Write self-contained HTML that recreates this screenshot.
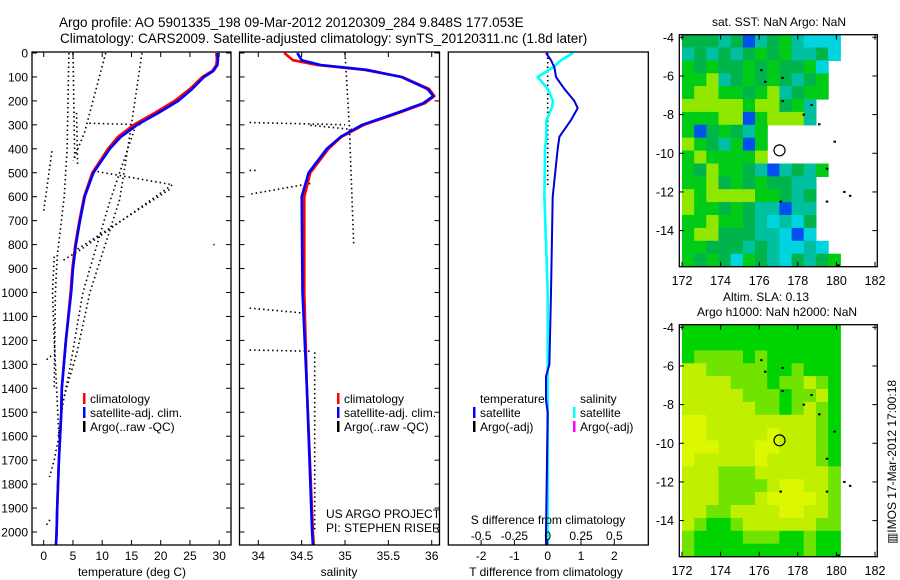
<!DOCTYPE html>
<html><head><meta charset="utf-8"><style>
html,body{margin:0;padding:0;background:#fff;}
svg{display:block;font-family:"Liberation Sans",sans-serif;}
text{fill:#000;}
</style></head><body>
<svg id="fig" width="900" height="580" viewBox="0 0 900 580" xmlns="http://www.w3.org/2000/svg">
<text x="59" y="27" font-size="13.5">Argo profile: AO 5901335_198 09-Mar-2012 20120309_284 9.848S 177.053E</text>
<text x="60" y="43" font-size="13.5">Climatology: CARS2009. Satellite-adjusted climatology: synTS_20120311.nc (1.8d later)</text>
<g id="p1"></g>
<g id="p2"></g>
<g id="p3"></g>
<g id="m1"></g>
<g id="m2"></g>
<text transform="translate(896,462) rotate(-90)" text-anchor="middle" font-size="12">▥IMOS 17-Mar-2012 17:00:18</text>
</svg>
<script>
// ---- data ----
const depthTicks=[0,100,200,300,400,500,600,700,800,900,1000,1100,1200,1300,1400,1500,1600,1700,1800,1900,2000];
const tTicks=[0,5,10,15,20,25,30];
const sTicks=[34,34.5,35,35.5,36];
const sTickLabels=["34","34.5","35","35.5","36"];
const dTTicks=[-2,-1,0,1,2];
const dSTicks=[-0.5,-0.25,0,0.25,0.5];
const dSTickLabels=["-0.5","-0.25","0","0.25","0.5"];
const profDepth=[0,25,50,75,100,150,200,250,300,350,400,500,600,700,800,900,1000,1200,1400,1500,1700,1900,2000,2055];
const tempClim=[29.5,29.6,29.5,28.8,27.1,25.0,22.4,19.0,15.4,12.7,11.0,8.3,6.9,6.1,5.4,4.9,4.6,3.8,3.1,3.0,2.6,2.3,2.2,2.1];
const tempSat=[29.7,29.8,29.7,29.0,27.4,25.4,23.0,19.6,16.0,13.2,11.3,8.5,7.0,6.2,5.5,5.0,4.7,3.8,3.1,3.0,2.6,2.3,2.2,2.1];
const salDepth=[0,30,50,70,100,150,180,210,250,300,350,400,500,600,1000,1400,2000,2055];
const salClim=[34.30,34.40,34.68,35.22,35.66,35.97,36.03,35.92,35.62,35.22,34.96,34.81,34.60,34.53,34.53,34.56,34.63,34.64];
const salSat=[34.45,34.50,34.72,35.25,35.65,35.95,36.02,35.90,35.60,35.20,34.95,34.79,34.58,34.50,34.51,34.56,34.62,34.63];
const diffDepth=[0,30,60,100,150,200,230,280,350,400,600,1000,1300,1350,1450,1500,2000,2055];
const tDiff=[-0.05,0.1,0.2,0.25,0.5,0.8,0.9,0.7,0.35,0.3,0.15,0.1,0.05,-0.05,-0.05,0.0,-0.05,-0.05];
const sDiff=[0.19,0.1,0.04,-0.075,0.0,0.04,0.03,-0.01,-0.01,-0.02,-0.025,0.0,0.0,0.0,0.0,0.0,0.0,0.0];
const argoT=[
 [[4.3,0],[4.0,400],[3.5,600],[2.3,850],[2.0,1000],[1.8,1400]],
 [[5.0,0],[5.3,440]],
 [[5.6,250],[5.8,470]],
 [[10.6,0],[7,330],[5,450]],
 [[16.8,0],[15,300],[13,610],[7.9,1000],[5.7,1250],[3.3,1450],[2.5,1600]],
 [[15.5,320],[11.3,620],[6.7,1000],[4.6,1300],[3,1500]],
 [[7.8,293],[17,300]],
 [[1.4,410],[0,660]],
 [[9.2,495],[22,550],[6.4,820],[3,870]],
 [[21.5,570],[5.7,820]],
 [[1.8,850],[1.5,1000],[1.8,1200],[2.2,1400],[2.6,1600],[1.8,1700],[1.0,1770]],
 [[0.5,1280],[1.5,1260]],
 [[0.5,1970],[1.3,1940]],
 [[29,800],[29.2,800]]
];
const argoS=[
 [[35.0,0],[35.05,300],[35.1,800]],
 [[33.9,290],[35.0,300]],
 [[34.6,302],[35.1,320]],
 [[33.9,490],[33.97,490]],
 [[34.6,545],[33.9,590]],
 [[33.9,1065],[34.5,1085]],
 [[33.9,1240],[34.6,1245]],
 [[34.65,1250],[34.65,2000]]
];
const mapLonTicks=[172,174,176,178,180,182];
const mapLatTicks=[-4,-6,-8,-10,-12,-14];
const sstRows=[
"GGGcGbcGgcCCC","cGcGcGgGgccGC","gGgGGgGgGGgC.","ggycGgGgGcGg.","gyyggGgycGgg.","yyyyygyyGgc..",
"gggyybgyyyc..","gbGgGcg......","ygGcgbg......","gyggggy......","gGyggGcbcGcg.","ggyGgGgGGcc..",
"ygyyyyggGcG..","yggGgGccbcc..","ggyggGcCcCG..","gyyGGGccCbC..","ggGGGcGcCCcC.","gGgGCgGcCGcGg"];
const slaRows=[
"ggggggggggggg","ggggggggggggg","gllllglgggggg","yylllllgglggg","yyyylllgllylg","yyyyylllgllyg",
"yyyyyyllglylg","YYyyyyyyyyylg","YYyyyyyYyyylg","YYYyyyYYyyylg","YyyyyyYyyyylg","yyylllyyyyyyl",
"yyyllllyYYyyl","yyylllyYYYYyl","yyllyyyyYYyyl","ylgglyyyyyyll","lgggglllgglgg","lggggggggglgg"];
const islandLon=[176.1,176.3,177.2,177.2,178.7,178.3,179.1,179.9,179.5,177.1,179.5,180.4,180.7,180.1];
const islandLat=[-5.7,-6.3,-6.1,-7.3,-7.5,-8.0,-8.5,-9.4,-10.8,-12.5,-12.5,-12.0,-12.2,-15.8];
const profLon=[177.053], profLat=[-9.848];

// ---- helpers ----
const NS="http://www.w3.org/2000/svg";
function mk(parent,tag,attrs,txt){const e=document.createElementNS(NS,tag);for(const k in attrs)e.setAttribute(k,attrs[k]);if(txt!==undefined)e.textContent=txt;parent.appendChild(e);return e;}
const Y=d=>53+d*0.2395;
const XT=t=>43.7+t*5.85;
const XS=s=>258.3+(s-34)*86.7;
const XDT=t=>547.7+t*33.3;
const XDS=s=>547.7+s*133.2;
const TOP=52,BOT=545;

function frame(g,x0,x1,name){
 const r=mk(g,'rect',{x:x0,y:TOP,width:x1-x0,height:BOT-TOP,fill:'none',stroke:'#000','stroke-width':1.3});
 
 
}
function depthAxis(g,x0,x1,labels){
 depthTicks.forEach(d=>{
  const y=Y(d);
  const t=mk(g,'line',{x1:x0,x2:x0+5,y1:y,y2:y,stroke:'#000'});
  
  
  const t2=mk(g,'line',{x1:x1-5,x2:x1,y1:y,y2:y,stroke:'#000'});
  
  
  if(labels){
   const l=mk(g,'text',{x:x0-4,y:y+4.5,'text-anchor':'end','font-size':12},String(d));
   
   
  }
 });
}
function xAxis(g,vals,labs,fx,ly,name){
 vals.forEach((v,i)=>{
  const x=fx(v);
  const t=mk(g,'line',{x1:x,x2:x,y1:BOT-5,y2:BOT,stroke:'#000'});
  
  
  const t2=mk(g,'line',{x1:x,x2:x,y1:TOP,y2:TOP+5,stroke:'#000'});
  
  
  const l=mk(g,'text',{x:x,y:ly,'text-anchor':'middle','font-size':12},labs[i]);
  
  
 });
}
function line(g,xs,ds,fx,color,w,name){
 const pts=xs.map((v,i)=>fx(v).toFixed(1)+','+Y(ds[i]).toFixed(1)).join(' ');
 const p=mk(g,'polyline',{points:pts,fill:'none',stroke:color,'stroke-width':w,'stroke-linejoin':'round'});
 
 
}
function dotted(g,segs,fx,name){
 segs.forEach(seg=>{
  const pts=seg.map(p=>fx(p[0]).toFixed(1)+','+Y(p[1]).toFixed(1)).join(' ');
  const p=mk(g,'polyline',{points:pts,fill:'none',stroke:'#000','stroke-width':1.6,'stroke-dasharray':'1.5,3'});
  
  
 });
}
function legend(g,x,y,items){
 items.forEach((it,i)=>{
  const yy=y+i*14;
  if(it[1]){const b=mk(g,'rect',{x:x,y:yy-10,width:2.5,height:11,fill:it[1]});
  
  }
  const t=mk(g,'text',{x:x+7,y:yy,'font-size':12},it[0]);
  
  
 });
}

// ---- panel 1: temperature ----
const p1=document.getElementById('p1');
dotted(p1,argoT,XT,'argo-temperature');
line(p1,tempClim,profDepth,XT,'#ff0000',2.6,'temperature-climatology');
line(p1,tempSat,profDepth,XT,'#0000ff',2.6,'temperature-satellite-adj');
frame(p1,32,231,'temperature-axes');
depthAxis(p1,32,231,true);
xAxis(p1,tTicks,tTicks.map(String),XT,560,'temperature');
let lb=mk(p1,'text',{x:132,y:576,'text-anchor':'middle','font-size':12},'temperature (deg C)');

legend(p1,83,403,[['climatology','#ff0000'],['satellite-adj. clim.','#0000ff'],['Argo(..raw -QC)','#000']]);

// ---- panel 2: salinity ----
const p2=document.getElementById('p2');
dotted(p2,argoS,XS,'argo-salinity');
line(p2,salClim,salDepth,XS,'#ff0000',2.6,'salinity-climatology');
line(p2,salSat,salDepth,XS,'#0000ff',2.6,'salinity-satellite-adj');
frame(p2,239.5,439.5,'salinity-axes');
depthAxis(p2,239.5,439.5,false);
xAxis(p2,sTicks,sTickLabels,XS,560,'salinity');
lb=mk(p2,'text',{x:339,y:576,'text-anchor':'middle','font-size':12},'salinity');

legend(p2,337,403,[['climatology','#ff0000'],['satellite-adj. clim.','#0000ff'],['Argo(..raw -QC)','#000']]);
lb=mk(p2,'text',{x:326,y:518,'font-size':12},'US ARGO PROJECT');

lb=mk(p2,'text',{x:326,y:532,'font-size':12},'PI: STEPHEN RISER');


// ---- panel 3: differences ----
const p3=document.getElementById('p3');
dotted(p3,[[[0,0],[0,560]]],XDT,'argo-difference');
line(p3,sDiff,diffDepth,XDS,'#00ffff',2.6,'salinity-difference');
line(p3,tDiff,diffDepth,XDT,'#0000d8',2,'temperature-difference');
frame(p3,448.3,648.3,'difference-axes');
dTTicks.forEach(v=>{const x=XDT(v);
 const t=mk(p3,'line',{x1:x,x2:x,y1:BOT-5,y2:BOT,stroke:'#000'});
 
 const l=mk(p3,'text',{x:x,y:560,'text-anchor':'middle','font-size':12},String(v));
 });
dSTicks.forEach((v,i)=>{const l=mk(p3,'text',{x:XDS(v),y:540,'text-anchor':'middle','font-size':12},dSTickLabels[i]);
 });
lb=mk(p3,'text',{x:548,y:524,'text-anchor':'middle','font-size':12},'S difference from climatology');

lb=mk(p3,'text',{x:546,y:576,'text-anchor':'middle','font-size':12},'T difference from climatology');

legend(p3,473,403,[['temperature',null],['satellite','#0000ff'],['Argo(-adj)','#000']]);
legend(p3,573,403,[['salinity',null],['satellite','#00ffff'],['Argo(-adj)','#ff00ff']]);

// ---- maps ----
const colsSST={G:'#00b44c',g:'#00cc18',y:'#90e800',c:'#00c0a0',C:'#00d4e0',b:'#0050f0'};
const colsSLA={g:'#00d400',l:'#70e400',y:'#c0f000',Y:'#dcf800'};
function drawMap(g,rows,cols,y0,name){
 const LX=l=>682+(l-172)*19.3;
 const LY=a=>37.3+(-4-a)*19.33+y0;
 const nr=rows.length,nc=rows[0].length,latTop=-3.86,latBot=-15.86,lonL=172,lonR=180.2;
 const dlat=(latTop-latBot)/nr,dlon=(lonR-lonL)/nc;
 rows.forEach((row,r)=>{[...row].forEach((ch,c)=>{
  if(ch==='.')return;
  const x=LX(lonL+c*dlon),y=LY(latTop-r*dlat);
  const cell=mk(g,'rect',{x:x.toFixed(1),y:y.toFixed(1),width:(dlon*19.3+0.6).toFixed(1),height:(dlat*19.33+0.6).toFixed(1),fill:cols[ch]});
  
  
 });});
 islandLon.forEach((lo,i)=>{const d=mk(g,'rect',{x:LX(lo)-1,y:LY(islandLat[i])-1,width:2.5,height:2,fill:'#000'});
  });
 const c=mk(g,'circle',{cx:LX(profLon[0]),cy:LY(profLat[0]),r:5.5,fill:'none',stroke:'#000','stroke-width':1.2});
 
 const fr=mk(g,'rect',{x:679.3,y:34.7+y0,width:198,height:232,fill:'none',stroke:'#000','stroke-width':1.3});
 
 mapLonTicks.forEach(lo=>{const x=LX(lo);
  const t=mk(g,'line',{x1:x,x2:x,y1:34.7+y0,y2:39.7+y0,stroke:'#000'});
  const t2=mk(g,'line',{x1:x,x2:x,y1:261.7+y0,y2:266.7+y0,stroke:'#000'});
  const l=mk(g,'text',{x:x,y:285+y0,'text-anchor':'middle','font-size':12.5},String(lo));
  });
 mapLatTicks.forEach(la=>{const y=LY(la);
  const t=mk(g,'line',{x1:679.3,x2:684,y1:y,y2:y,stroke:'#000'});
  const t2=mk(g,'line',{x1:872.3,x2:877.3,y1:y,y2:y,stroke:'#000'});
  const l=mk(g,'text',{x:674,y:y+4.5,'text-anchor':'end','font-size':12.5},String(la));
  });
}
const m1=document.getElementById('m1');
drawMap(m1,sstRows,colsSST,0,'sst-map');
lb=mk(m1,'text',{x:779,y:26,'text-anchor':'middle','font-size':12},'sat. SST: NaN Argo: NaN');

const m2=document.getElementById('m2');
drawMap(m2,slaRows,colsSLA,290,'sla-map');
lb=mk(m2,'text',{x:766,y:301,'text-anchor':'middle','font-size':12},'Altim. SLA: 0.13');

lb=mk(m2,'text',{x:777,y:316,'text-anchor':'middle','font-size':12},'Argo h1000: NaN h2000: NaN');

</script>
</body></html>
